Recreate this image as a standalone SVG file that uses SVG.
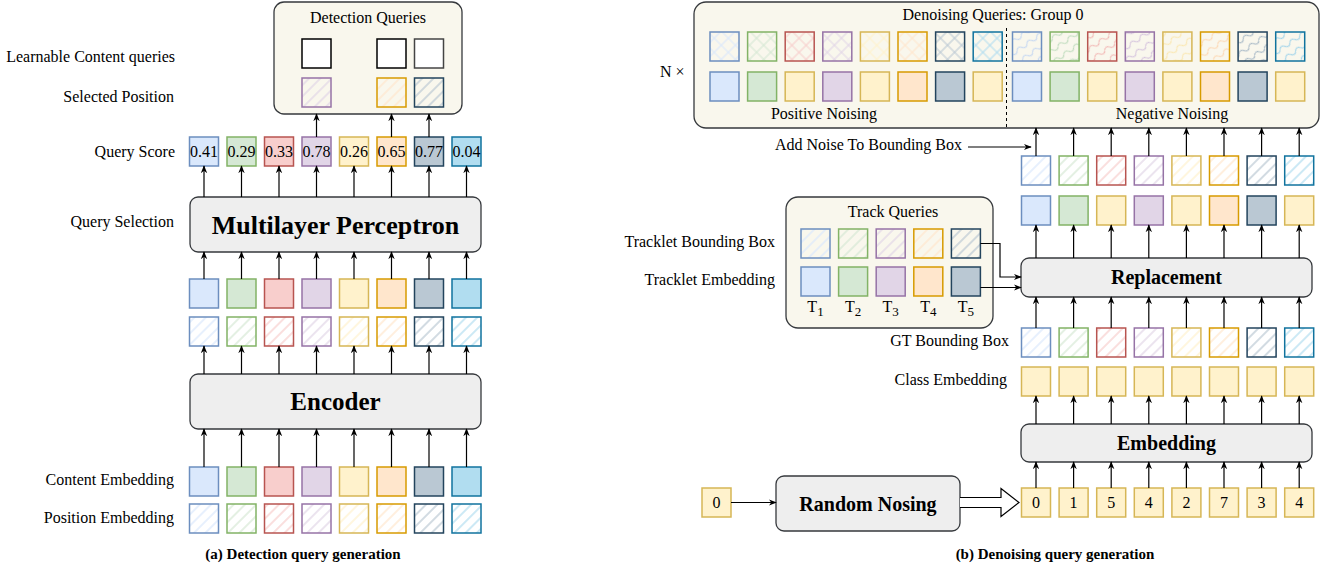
<svg xmlns="http://www.w3.org/2000/svg" width="1337" height="571" viewBox="0 0 1337 571">
<style>
text{font-family:"Liberation Serif","Times New Roman",serif;fill:#000}
.t16{font-size:16px}
.lbl{font-size:16px;text-anchor:end}
.ctr{text-anchor:middle}
.big{font-size:25px;font-weight:bold;text-anchor:middle}
.mlp{font-size:26px;font-weight:bold;text-anchor:middle}
.mid{font-size:20px;font-weight:bold;text-anchor:middle}
.cap{font-size:15px;font-weight:bold;text-anchor:middle}
.cont{fill:#f9f7ed;stroke:#36393d;stroke-width:1.3}
.proc{fill:#eeeeee;stroke:#36393d;stroke-width:1.3}
rect.s{stroke-width:1.5}
.fb{fill:#dae8fc;stroke:#6c8ebf}.fg{fill:#d5e8d4;stroke:#82b366}.fr{fill:#f8cecc;stroke:#b85450}.fp{fill:#e1d5e7;stroke:#9673a6}
.fy{fill:#fff2cc;stroke:#d6b656}.fo{fill:#ffe6cc;stroke:#d79b00}.fd{fill:#bac8d3;stroke:#23445d}.fc{fill:#b1ddf0;stroke:#10739e}
.hb{fill:url(#hb);stroke:#6c8ebf}.hg{fill:url(#hg);stroke:#82b366}.hr{fill:url(#hr);stroke:#b85450}.hp{fill:url(#hp);stroke:#9673a6}
.hy{fill:url(#hy);stroke:#d6b656}.ho{fill:url(#ho);stroke:#d79b00}.hd{fill:url(#hd);stroke:#23445d}.hc{fill:url(#hc);stroke:#10739e}
.xb{fill:url(#xb);stroke:#6c8ebf}.xg{fill:url(#xg);stroke:#82b366}.xr{fill:url(#xr);stroke:#b85450}.xp{fill:url(#xp);stroke:#9673a6}
.xy{fill:url(#xy);stroke:#d6b656}.xo{fill:url(#xo);stroke:#d79b00}.xd{fill:url(#xd);stroke:#23445d}.xc{fill:url(#xc);stroke:#10739e}
.wb{fill:url(#wb);stroke:#6c8ebf}.wg{fill:url(#wg);stroke:#82b366}.wr{fill:url(#wr);stroke:#b85450}.wp{fill:url(#wp);stroke:#9673a6}
.wy{fill:url(#wy);stroke:#d6b656}.wo{fill:url(#wo);stroke:#d79b00}.wd{fill:url(#wd);stroke:#23445d}.wc{fill:url(#wc);stroke:#10739e}
.wh{fill:#ffffff;stroke:#000;stroke-width:1.5}
.ar{stroke:#000;stroke-width:1.2;fill:none;marker-end:url(#a)}
</style>
<defs>
<marker id="a" viewBox="0 0 10 10" refX="9" refY="5" markerWidth="8" markerHeight="8" markerUnits="userSpaceOnUse" orient="auto"><path d="M0,1 L10,5 L0,9 L3,5 z" fill="#000"/></marker>
<pattern id="hb" width="8" height="8" patternUnits="userSpaceOnUse" patternTransform="rotate(45)"><line x1="2" y1="0" x2="2" y2="8" stroke="#dae8fc" stroke-width="1.3"/></pattern>
<pattern id="hg" width="8" height="8" patternUnits="userSpaceOnUse" patternTransform="rotate(45)"><line x1="2" y1="0" x2="2" y2="8" stroke="#d5e8d4" stroke-width="1.3"/></pattern>
<pattern id="hr" width="8" height="8" patternUnits="userSpaceOnUse" patternTransform="rotate(45)"><line x1="2" y1="0" x2="2" y2="8" stroke="#f8cecc" stroke-width="1.3"/></pattern>
<pattern id="hp" width="8" height="8" patternUnits="userSpaceOnUse" patternTransform="rotate(45)"><line x1="2" y1="0" x2="2" y2="8" stroke="#e1d5e7" stroke-width="1.3"/></pattern>
<pattern id="hy" width="8" height="8" patternUnits="userSpaceOnUse" patternTransform="rotate(45)"><line x1="2" y1="0" x2="2" y2="8" stroke="#fff2cc" stroke-width="1.3"/></pattern>
<pattern id="ho" width="8" height="8" patternUnits="userSpaceOnUse" patternTransform="rotate(45)"><line x1="2" y1="0" x2="2" y2="8" stroke="#ffe6cc" stroke-width="1.3"/></pattern>
<pattern id="hd" width="8" height="8" patternUnits="userSpaceOnUse" patternTransform="rotate(45)"><line x1="2" y1="0" x2="2" y2="8" stroke="#bac8d3" stroke-width="1.3"/></pattern>
<pattern id="hc" width="8" height="8" patternUnits="userSpaceOnUse" patternTransform="rotate(45)"><line x1="2" y1="0" x2="2" y2="8" stroke="#b1ddf0" stroke-width="1.3"/></pattern>
<pattern id="xb" width="10" height="10" patternUnits="userSpaceOnUse" patternTransform="rotate(45)"><path d="M2,0 V10 M0,2 H10" stroke="#dae8fc" stroke-width="1.1"/></pattern>
<pattern id="xg" width="10" height="10" patternUnits="userSpaceOnUse" patternTransform="rotate(45)"><path d="M2,0 V10 M0,2 H10" stroke="#d5e8d4" stroke-width="1.1"/></pattern>
<pattern id="xr" width="10" height="10" patternUnits="userSpaceOnUse" patternTransform="rotate(45)"><path d="M2,0 V10 M0,2 H10" stroke="#f8cecc" stroke-width="1.1"/></pattern>
<pattern id="xp" width="10" height="10" patternUnits="userSpaceOnUse" patternTransform="rotate(45)"><path d="M2,0 V10 M0,2 H10" stroke="#e1d5e7" stroke-width="1.1"/></pattern>
<pattern id="xy" width="10" height="10" patternUnits="userSpaceOnUse" patternTransform="rotate(45)"><path d="M2,0 V10 M0,2 H10" stroke="#fff2cc" stroke-width="1.1"/></pattern>
<pattern id="xo" width="10" height="10" patternUnits="userSpaceOnUse" patternTransform="rotate(45)"><path d="M2,0 V10 M0,2 H10" stroke="#ffe6cc" stroke-width="1.1"/></pattern>
<pattern id="xd" width="10" height="10" patternUnits="userSpaceOnUse" patternTransform="rotate(45)"><path d="M2,0 V10 M0,2 H10" stroke="#bac8d3" stroke-width="1.1"/></pattern>
<pattern id="xc" width="10" height="10" patternUnits="userSpaceOnUse" patternTransform="rotate(45)"><path d="M2,0 V10 M0,2 H10" stroke="#b1ddf0" stroke-width="1.1"/></pattern>
<pattern id="wb" width="12" height="10" patternUnits="userSpaceOnUse" patternTransform="rotate(-35)"><path d="M0,5 Q3,1 6,5 T12,5" fill="none" stroke="#c3d6f2" stroke-width="1.1"/></pattern>
<pattern id="wg" width="12" height="10" patternUnits="userSpaceOnUse" patternTransform="rotate(-35)"><path d="M0,5 Q3,1 6,5 T12,5" fill="none" stroke="#c0dcbe" stroke-width="1.1"/></pattern>
<pattern id="wr" width="12" height="10" patternUnits="userSpaceOnUse" patternTransform="rotate(-35)"><path d="M0,5 Q3,1 6,5 T12,5" fill="none" stroke="#f2b8b5" stroke-width="1.1"/></pattern>
<pattern id="wp" width="12" height="10" patternUnits="userSpaceOnUse" patternTransform="rotate(-35)"><path d="M0,5 Q3,1 6,5 T12,5" fill="none" stroke="#d4c2dd" stroke-width="1.1"/></pattern>
<pattern id="wy" width="12" height="10" patternUnits="userSpaceOnUse" patternTransform="rotate(-35)"><path d="M0,5 Q3,1 6,5 T12,5" fill="none" stroke="#fbe7b0" stroke-width="1.1"/></pattern>
<pattern id="wo" width="12" height="10" patternUnits="userSpaceOnUse" patternTransform="rotate(-35)"><path d="M0,5 Q3,1 6,5 T12,5" fill="none" stroke="#fcd8b4" stroke-width="1.1"/></pattern>
<pattern id="wd" width="12" height="10" patternUnits="userSpaceOnUse" patternTransform="rotate(-35)"><path d="M0,5 Q3,1 6,5 T12,5" fill="none" stroke="#a5b7c5" stroke-width="1.1"/></pattern>
<pattern id="wc" width="12" height="10" patternUnits="userSpaceOnUse" patternTransform="rotate(-35)"><path d="M0,5 Q3,1 6,5 T12,5" fill="none" stroke="#9dd2ea" stroke-width="1.1"/></pattern>
</defs>
<rect width="1337" height="571" fill="#ffffff"/>

<!-- LEFT PANEL -->
<g id="labels-left">
<text class="lbl" x="175" y="62">Learnable Content queries</text>
<text class="lbl" x="174" y="102">Selected Position</text>
<text class="lbl" x="175" y="157">Query Score</text>
<text class="lbl" x="174" y="227">Query Selection</text>
<text class="lbl" x="174" y="485">Content Embedding</text>
<text class="lbl" x="174" y="523">Position Embedding</text>
</g>

<g id="detection-queries">
<rect class="cont" x="274" y="2" width="188" height="112" rx="10"/>
<text class="t16 ctr" x="368" y="23">Detection Queries</text>
<rect class="wh" x="302" y="39" width="29" height="29"/>
<rect class="wh" x="377" y="39" width="29" height="29"/>
<rect class="wh" x="414.5" y="39" width="29" height="29" style="stroke:#444"/>
<rect class="s hp" x="302" y="78" width="29" height="29"/>
<rect class="s ho" x="377" y="78" width="29" height="29"/>
<rect class="s hd" x="414.5" y="78" width="29" height="29"/>
</g>

<g id="query-score">
<rect class="s fb" x="189.5" y="137" width="29" height="29"/>
<rect class="s fg" x="227" y="137" width="29" height="29"/>
<rect class="s fr" x="264.5" y="137" width="29" height="29"/>
<rect class="s fp" x="302" y="137" width="29" height="29"/>
<rect class="s fy" x="339.5" y="137" width="29" height="29"/>
<rect class="s fo" x="377" y="137" width="29" height="29"/>
<rect class="s fd" x="414.5" y="137" width="29" height="29"/>
<rect class="s fc" x="452" y="137" width="29" height="29"/>
<text class="t16 ctr" x="204" y="157">0.41</text>
<text class="t16 ctr" x="241.5" y="157">0.29</text>
<text class="t16 ctr" x="279" y="157">0.33</text>
<text class="t16 ctr" x="316.5" y="157">0.78</text>
<text class="t16 ctr" x="354" y="157">0.26</text>
<text class="t16 ctr" x="391.5" y="157">0.65</text>
<text class="t16 ctr" x="429" y="157">0.77</text>
<text class="t16 ctr" x="466.5" y="157">0.04</text>
</g>

<g id="mlp">
<rect class="proc" x="190" y="197" width="291" height="55" rx="8"/>
<text class="mlp" x="335.5" y="234">Multilayer Perceptron</text>
</g>

<g id="encoded-queries">
<rect class="s fb" x="189.5" y="279" width="29" height="29"/>
<rect class="s fg" x="227" y="279" width="29" height="29"/>
<rect class="s fr" x="264.5" y="279" width="29" height="29"/>
<rect class="s fp" x="302" y="279" width="29" height="29"/>
<rect class="s fy" x="339.5" y="279" width="29" height="29"/>
<rect class="s fo" x="377" y="279" width="29" height="29"/>
<rect class="s fd" x="414.5" y="279" width="29" height="29"/>
<rect class="s fc" x="452" y="279" width="29" height="29"/>
<rect class="s hb" x="189.5" y="317" width="29" height="29"/>
<rect class="s hg" x="227" y="317" width="29" height="29"/>
<rect class="s hr" x="264.5" y="317" width="29" height="29"/>
<rect class="s hp" x="302" y="317" width="29" height="29"/>
<rect class="s hy" x="339.5" y="317" width="29" height="29"/>
<rect class="s ho" x="377" y="317" width="29" height="29"/>
<rect class="s hd" x="414.5" y="317" width="29" height="29"/>
<rect class="s hc" x="452" y="317" width="29" height="29"/>
</g>

<g id="encoder">
<rect class="proc" x="190" y="374" width="291" height="55" rx="8"/>
<text class="big" x="335.5" y="410">Encoder</text>
</g>

<g id="input-embeddings">
<rect class="s fb" x="189.5" y="467" width="29" height="29"/>
<rect class="s fg" x="227" y="467" width="29" height="29"/>
<rect class="s fr" x="264.5" y="467" width="29" height="29"/>
<rect class="s fp" x="302" y="467" width="29" height="29"/>
<rect class="s fy" x="339.5" y="467" width="29" height="29"/>
<rect class="s fo" x="377" y="467" width="29" height="29"/>
<rect class="s fd" x="414.5" y="467" width="29" height="29"/>
<rect class="s fc" x="452" y="467" width="29" height="29"/>
<rect class="s hb" x="189.5" y="504" width="29" height="29"/>
<rect class="s hg" x="227" y="504" width="29" height="29"/>
<rect class="s hr" x="264.5" y="504" width="29" height="29"/>
<rect class="s hp" x="302" y="504" width="29" height="29"/>
<rect class="s hy" x="339.5" y="504" width="29" height="29"/>
<rect class="s ho" x="377" y="504" width="29" height="29"/>
<rect class="s hd" x="414.5" y="504" width="29" height="29"/>
<rect class="s hc" x="452" y="504" width="29" height="29"/>
</g>

<text class="cap" x="303" y="559">(a) Detection query generation</text>

<!-- RIGHT PANEL -->
<g id="denoising-queries">
<rect class="cont" x="694" y="2" width="625" height="126" rx="12"/>
<text class="t16 ctr" x="993" y="20">Denoising Queries: Group 0</text>
<line x1="1006.5" y1="28" x2="1006.5" y2="128" stroke="#000" stroke-width="1" stroke-dasharray="3,3"/>
<rect class="s xb" x="710" y="32" width="29" height="29"/>
<rect class="s xg" x="747.6" y="32" width="29" height="29"/>
<rect class="s xr" x="785.2" y="32" width="29" height="29"/>
<rect class="s xp" x="822.8" y="32" width="29" height="29"/>
<rect class="s xy" x="860.4" y="32" width="29" height="29"/>
<rect class="s xo" x="898" y="32" width="29" height="29"/>
<rect class="s xd" x="935.6" y="32" width="29" height="29"/>
<rect class="s xc" x="973.2" y="32" width="29" height="29"/>
<rect class="s fb" x="710" y="72" width="29" height="29"/>
<rect class="s fg" x="747.6" y="72" width="29" height="29"/>
<rect class="s fy" x="785.2" y="72" width="29" height="29"/>
<rect class="s fp" x="822.8" y="72" width="29" height="29"/>
<rect class="s fy" x="860.4" y="72" width="29" height="29"/>
<rect class="s fo" x="898" y="72" width="29" height="29"/>
<rect class="s fd" x="935.6" y="72" width="29" height="29"/>
<rect class="s fy" x="973.2" y="72" width="29" height="29"/>
<rect class="s wb" x="1012.5" y="32" width="29" height="29"/>
<rect class="s wg" x="1050.1" y="32" width="29" height="29"/>
<rect class="s wr" x="1087.7" y="32" width="29" height="29"/>
<rect class="s wp" x="1125.3" y="32" width="29" height="29"/>
<rect class="s wy" x="1162.9" y="32" width="29" height="29"/>
<rect class="s wo" x="1200.5" y="32" width="29" height="29"/>
<rect class="s wd" x="1238.1" y="32" width="29" height="29"/>
<rect class="s wc" x="1275.7" y="32" width="29" height="29"/>
<rect class="s fb" x="1012.5" y="72" width="29" height="29"/>
<rect class="s fg" x="1050.1" y="72" width="29" height="29"/>
<rect class="s fy" x="1087.7" y="72" width="29" height="29"/>
<rect class="s fp" x="1125.3" y="72" width="29" height="29"/>
<rect class="s fy" x="1162.9" y="72" width="29" height="29"/>
<rect class="s fo" x="1200.5" y="72" width="29" height="29"/>
<rect class="s fd" x="1238.1" y="72" width="29" height="29"/>
<rect class="s fy" x="1275.7" y="72" width="29" height="29"/>
<text class="t16 ctr" x="824" y="119">Positive Noising</text>
<text class="t16 ctr" x="1172" y="119">Negative Noising</text>
</g>

<g id="labels-right">
<text class="t16" x="660" y="77">N ×</text>
<text class="lbl" x="962" y="150">Add Noise To Bounding Box</text>
<text class="lbl" x="775" y="247">Tracklet Bounding Box</text>
<text class="lbl" x="775" y="285">Tracklet Embedding</text>
<text class="lbl" x="1009" y="346">GT Bounding Box</text>
<text class="lbl" x="1007" y="385">Class Embedding</text>
</g>

<g id="replaced-queries">
<rect class="s hb" x="1021.5" y="156" width="29" height="29"/>
<rect class="s hg" x="1059.1" y="156" width="29" height="29"/>
<rect class="s hr" x="1096.7" y="156" width="29" height="29"/>
<rect class="s hp" x="1134.3" y="156" width="29" height="29"/>
<rect class="s hy" x="1171.9" y="156" width="29" height="29"/>
<rect class="s ho" x="1209.5" y="156" width="29" height="29"/>
<rect class="s hd" x="1247.1" y="156" width="29" height="29"/>
<rect class="s hc" x="1284.7" y="156" width="29" height="29"/>
<rect class="s fb" x="1021.5" y="196" width="29" height="29"/>
<rect class="s fg" x="1059.1" y="196" width="29" height="29"/>
<rect class="s fy" x="1096.7" y="196" width="29" height="29"/>
<rect class="s fp" x="1134.3" y="196" width="29" height="29"/>
<rect class="s fy" x="1171.9" y="196" width="29" height="29"/>
<rect class="s fo" x="1209.5" y="196" width="29" height="29"/>
<rect class="s fd" x="1247.1" y="196" width="29" height="29"/>
<rect class="s fy" x="1284.7" y="196" width="29" height="29"/>
</g>

<g id="track-queries">
<rect class="cont" x="786" y="197" width="207" height="131" rx="12"/>
<text class="t16 ctr" x="893" y="217">Track Queries</text>
<rect class="s hb" x="801" y="229" width="29" height="29"/>
<rect class="s hg" x="838.6" y="229" width="29" height="29"/>
<rect class="s hp" x="876.2" y="229" width="29" height="29"/>
<rect class="s ho" x="913.8" y="229" width="29" height="29"/>
<rect class="s hd" x="951.4" y="229" width="29" height="29"/>
<rect class="s fb" x="801" y="267" width="29" height="29"/>
<rect class="s fg" x="838.6" y="267" width="29" height="29"/>
<rect class="s fp" x="876.2" y="267" width="29" height="29"/>
<rect class="s fo" x="913.8" y="267" width="29" height="29"/>
<rect class="s fd" x="951.4" y="267" width="29" height="29"/>
<text class="t16 ctr" x="815.5" y="312">T<tspan font-size="13" dy="4">1</tspan></text>
<text class="t16 ctr" x="853.1" y="312">T<tspan font-size="13" dy="4">2</tspan></text>
<text class="t16 ctr" x="890.7" y="312">T<tspan font-size="13" dy="4">3</tspan></text>
<text class="t16 ctr" x="928.3" y="312">T<tspan font-size="13" dy="4">4</tspan></text>
<text class="t16 ctr" x="965.9" y="312">T<tspan font-size="13" dy="4">5</tspan></text>
</g>

<g id="replacement">
<rect class="proc" x="1021" y="258" width="291" height="39" rx="8"/>
<text class="mid" x="1166.5" y="284">Replacement</text>
</g>

<g id="gt-queries">
<rect class="s hb" x="1021.5" y="328" width="29" height="29"/>
<rect class="s hg" x="1059.1" y="328" width="29" height="29"/>
<rect class="s hr" x="1096.7" y="328" width="29" height="29"/>
<rect class="s hp" x="1134.3" y="328" width="29" height="29"/>
<rect class="s hy" x="1171.9" y="328" width="29" height="29"/>
<rect class="s ho" x="1209.5" y="328" width="29" height="29"/>
<rect class="s hd" x="1247.1" y="328" width="29" height="29"/>
<rect class="s hc" x="1284.7" y="328" width="29" height="29"/>
<rect class="s fy" x="1021.5" y="367" width="29" height="29"/>
<rect class="s fy" x="1059.1" y="367" width="29" height="29"/>
<rect class="s fy" x="1096.7" y="367" width="29" height="29"/>
<rect class="s fy" x="1134.3" y="367" width="29" height="29"/>
<rect class="s fy" x="1171.9" y="367" width="29" height="29"/>
<rect class="s fy" x="1209.5" y="367" width="29" height="29"/>
<rect class="s fy" x="1247.1" y="367" width="29" height="29"/>
<rect class="s fy" x="1284.7" y="367" width="29" height="29"/>
</g>

<g id="embedding">
<rect class="proc" x="1021" y="424" width="291" height="38" rx="8"/>
<text class="mid" x="1166.5" y="450">Embedding</text>
</g>

<g id="labels-noised">
<rect class="s fy" x="1021.5" y="488" width="29" height="29"/>
<rect class="s fy" x="1059.1" y="488" width="29" height="29"/>
<rect class="s fy" x="1096.7" y="488" width="29" height="29"/>
<rect class="s fy" x="1134.3" y="488" width="29" height="29"/>
<rect class="s fy" x="1171.9" y="488" width="29" height="29"/>
<rect class="s fy" x="1209.5" y="488" width="29" height="29"/>
<rect class="s fy" x="1247.1" y="488" width="29" height="29"/>
<rect class="s fy" x="1284.7" y="488" width="29" height="29"/>
<text class="t16 ctr" x="1036" y="508">0</text>
<text class="t16 ctr" x="1073.6" y="508">1</text>
<text class="t16 ctr" x="1111.2" y="508">5</text>
<text class="t16 ctr" x="1148.8" y="508">4</text>
<text class="t16 ctr" x="1186.4" y="508">2</text>
<text class="t16 ctr" x="1224" y="508">7</text>
<text class="t16 ctr" x="1261.6" y="508">3</text>
<text class="t16 ctr" x="1299.2" y="508">4</text>
</g>

<g id="label-input">
<rect class="s fy" x="702" y="488" width="29" height="29"/>
<text class="t16 ctr" x="716.5" y="508">0</text>
</g>

<g id="random-nosing">
<rect class="proc" x="776" y="476" width="184" height="55" rx="8"/>
<text class="mid" x="868" y="511">Random Nosing</text>
</g>

<text class="cap" x="1055" y="559">(b) Denoising query generation</text>

<g id="connectors">
<line class="ar" x1="316.5" y1="137" x2="316.5" y2="114"/>
<line class="ar" x1="391.5" y1="137" x2="391.5" y2="114"/>
<line class="ar" x1="429" y1="137" x2="429" y2="114"/>
<line class="ar" x1="204" y1="197" x2="204" y2="166"/>
<line class="ar" x1="241.5" y1="197" x2="241.5" y2="166"/>
<line class="ar" x1="279" y1="197" x2="279" y2="166"/>
<line class="ar" x1="316.5" y1="197" x2="316.5" y2="166"/>
<line class="ar" x1="354" y1="197" x2="354" y2="166"/>
<line class="ar" x1="391.5" y1="197" x2="391.5" y2="166"/>
<line class="ar" x1="429" y1="197" x2="429" y2="166"/>
<line class="ar" x1="466.5" y1="197" x2="466.5" y2="166"/>
<line class="ar" x1="204" y1="279" x2="204" y2="252"/>
<line class="ar" x1="241.5" y1="279" x2="241.5" y2="252"/>
<line class="ar" x1="279" y1="279" x2="279" y2="252"/>
<line class="ar" x1="316.5" y1="279" x2="316.5" y2="252"/>
<line class="ar" x1="354" y1="279" x2="354" y2="252"/>
<line class="ar" x1="391.5" y1="279" x2="391.5" y2="252"/>
<line class="ar" x1="429" y1="279" x2="429" y2="252"/>
<line class="ar" x1="466.5" y1="279" x2="466.5" y2="252"/>
<line class="ar" x1="204" y1="374" x2="204" y2="346"/>
<line class="ar" x1="241.5" y1="374" x2="241.5" y2="346"/>
<line class="ar" x1="279" y1="374" x2="279" y2="346"/>
<line class="ar" x1="316.5" y1="374" x2="316.5" y2="346"/>
<line class="ar" x1="354" y1="374" x2="354" y2="346"/>
<line class="ar" x1="391.5" y1="374" x2="391.5" y2="346"/>
<line class="ar" x1="429" y1="374" x2="429" y2="346"/>
<line class="ar" x1="466.5" y1="374" x2="466.5" y2="346"/>
<line class="ar" x1="204" y1="467" x2="204" y2="429"/>
<line class="ar" x1="241.5" y1="467" x2="241.5" y2="429"/>
<line class="ar" x1="279" y1="467" x2="279" y2="429"/>
<line class="ar" x1="316.5" y1="467" x2="316.5" y2="429"/>
<line class="ar" x1="354" y1="467" x2="354" y2="429"/>
<line class="ar" x1="391.5" y1="467" x2="391.5" y2="429"/>
<line class="ar" x1="429" y1="467" x2="429" y2="429"/>
<line class="ar" x1="466.5" y1="467" x2="466.5" y2="429"/>
<line class="ar" x1="1036" y1="156" x2="1036" y2="128"/>
<line class="ar" x1="1073.6" y1="156" x2="1073.6" y2="128"/>
<line class="ar" x1="1111.2" y1="156" x2="1111.2" y2="128"/>
<line class="ar" x1="1148.8" y1="156" x2="1148.8" y2="128"/>
<line class="ar" x1="1186.4" y1="156" x2="1186.4" y2="128"/>
<line class="ar" x1="1224" y1="156" x2="1224" y2="128"/>
<line class="ar" x1="1261.6" y1="156" x2="1261.6" y2="128"/>
<line class="ar" x1="1299.2" y1="156" x2="1299.2" y2="128"/>
<line class="ar" x1="968" y1="147" x2="1031" y2="147"/>
<line class="ar" x1="1036" y1="258" x2="1036" y2="225"/>
<line class="ar" x1="1073.6" y1="258" x2="1073.6" y2="225"/>
<line class="ar" x1="1111.2" y1="258" x2="1111.2" y2="225"/>
<line class="ar" x1="1148.8" y1="258" x2="1148.8" y2="225"/>
<line class="ar" x1="1186.4" y1="258" x2="1186.4" y2="225"/>
<line class="ar" x1="1224" y1="258" x2="1224" y2="225"/>
<line class="ar" x1="1261.6" y1="258" x2="1261.6" y2="225"/>
<line class="ar" x1="1299.2" y1="258" x2="1299.2" y2="225"/>
<path class="ar" d="M980.4,243.5 H1000 V277 H1021"/>
<line class="ar" x1="980.4" y1="287.5" x2="1021" y2="287.5"/>
<line class="ar" x1="1036" y1="328" x2="1036" y2="297"/>
<line class="ar" x1="1073.6" y1="328" x2="1073.6" y2="297"/>
<line class="ar" x1="1111.2" y1="328" x2="1111.2" y2="297"/>
<line class="ar" x1="1148.8" y1="328" x2="1148.8" y2="297"/>
<line class="ar" x1="1186.4" y1="328" x2="1186.4" y2="297"/>
<line class="ar" x1="1224" y1="328" x2="1224" y2="297"/>
<line class="ar" x1="1261.6" y1="328" x2="1261.6" y2="297"/>
<line class="ar" x1="1299.2" y1="328" x2="1299.2" y2="297"/>
<line class="ar" x1="1036" y1="424" x2="1036" y2="396"/>
<line class="ar" x1="1073.6" y1="424" x2="1073.6" y2="396"/>
<line class="ar" x1="1111.2" y1="424" x2="1111.2" y2="396"/>
<line class="ar" x1="1148.8" y1="424" x2="1148.8" y2="396"/>
<line class="ar" x1="1186.4" y1="424" x2="1186.4" y2="396"/>
<line class="ar" x1="1224" y1="424" x2="1224" y2="396"/>
<line class="ar" x1="1261.6" y1="424" x2="1261.6" y2="396"/>
<line class="ar" x1="1299.2" y1="424" x2="1299.2" y2="396"/>
<line class="ar" x1="1036" y1="488" x2="1036" y2="462"/>
<line class="ar" x1="1073.6" y1="488" x2="1073.6" y2="462"/>
<line class="ar" x1="1111.2" y1="488" x2="1111.2" y2="462"/>
<line class="ar" x1="1148.8" y1="488" x2="1148.8" y2="462"/>
<line class="ar" x1="1186.4" y1="488" x2="1186.4" y2="462"/>
<line class="ar" x1="1224" y1="488" x2="1224" y2="462"/>
<line class="ar" x1="1261.6" y1="488" x2="1261.6" y2="462"/>
<line class="ar" x1="1299.2" y1="488" x2="1299.2" y2="462"/>
<line class="ar" x1="731" y1="502.5" x2="776" y2="502.5"/>
<path d="M960,497.5 H1001 V488.5 L1019,502.5 L1001,516.5 V507.5 H960" fill="#ffffff" stroke="#000" stroke-width="1.2"/>
</g>
</svg>
